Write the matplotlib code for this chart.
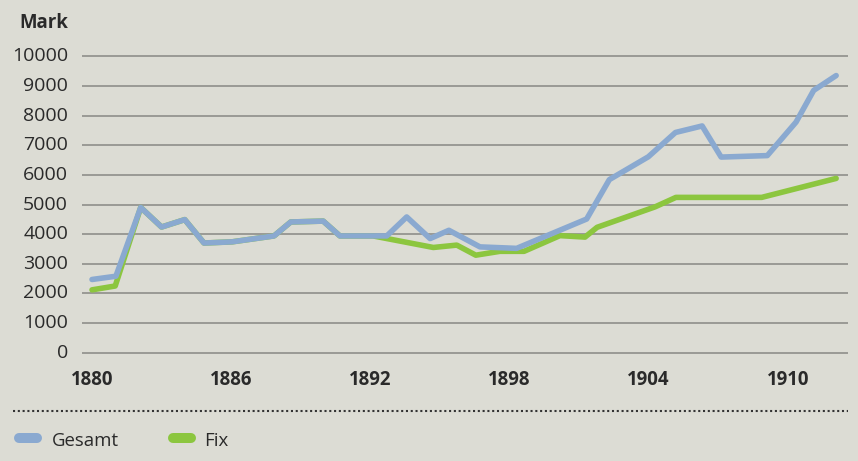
import matplotlib
matplotlib.use("Agg")
import matplotlib.pyplot as plt
from matplotlib.lines import Line2D
from matplotlib.transforms import ScaledTranslation

# ---------------- data ----------------
gesamt_years = [1880.0, 1881.03, 1882.1, 1883.0, 1884.0, 1884.83, 1886.04, 1887.85,
                1888.57, 1889.97, 1890.69, 1892.71, 1893.57, 1894.58, 1895.39, 1896.73,
                1898.31, 1901.33, 1902.31, 1903.99, 1905.16, 1906.31, 1907.13, 1909.12,
                1910.36, 1911.12, 1912.09]
gesamt_values = [2470, 2580, 4900, 4240, 4490, 3700, 3740, 3940,
                 4410, 4440, 3940, 3940, 4580, 3850, 4130, 3570,
                 3520, 4510, 5840, 6610, 7430, 7650, 6600, 6650,
                 7780, 8850, 9350]

fix_years = [1880.0, 1881.0, 1882.1, 1883.0, 1884.0, 1884.83, 1886.04, 1887.85,
             1888.57, 1889.97, 1890.69, 1892.12, 1894.72, 1895.73, 1896.55, 1897.59,
             1898.63, 1900.18, 1901.26, 1901.78, 1904.28, 1905.18, 1908.88, 1912.09]
fix_values = [2120, 2250, 4900, 4240, 4490, 3700, 3740, 3940,
              4410, 4440, 3940, 3940, 3550, 3630, 3290, 3420,
              3420, 3950, 3900, 4230, 4920, 5240, 5240, 5880]

x_ticks = [1880, 1886, 1892, 1898, 1904, 1910]
y_ticks = [0, 1000, 2000, 3000, 4000, 5000, 6000, 7000, 8000, 9000, 10000]
y_labels = ["0", "1000", "2000", "3000", "4000", "5000", "6000", "7000", "8000", "9000", "10000"]
series_names = ["Gesamt", "Fix"]
y_title = "Mark"

# ---------------- style ----------------
BG = "#dcdcd4"
BLUE = "#8aa9d0"
GREEN = "#8cc63f"
GRID = "#8e8e8a"
TXT = "#2a2a2a"
plt.rcParams["font.family"] = ["Open Sans", "DejaVu Sans"]

W, H = 858, 461
fig = plt.figure(figsize=(W / 100, H / 100), dpi=100)
fig.patch.set_facecolor(BG)

def fy(py):
    return 1 - py / H

# axes geometry (pixels)
left_px, right_px = 82, 848
px_per_year = 23.19
x_first_px = 92
x0 = 1880 - (x_first_px - left_px) / px_per_year
x1 = 1880 + (right_px - x_first_px) / px_per_year
ylo, yhi = -250, 10250
px_per_unit = 0.02964
zero_px = 352.7
bottom_px = zero_px - ylo * px_per_unit
height_px = (yhi - ylo) * px_per_unit

ax = fig.add_axes([left_px / W, fy(bottom_px), (right_px - left_px) / W, height_px / H])
ax.set_facecolor(BG)
ax.set_xlim(x0, x1)
ax.set_ylim(ylo, yhi)
for s in ax.spines.values():
    s.set_visible(False)

ax.set_yticks(y_ticks)
ax.set_yticklabels(y_labels)
ax.yaxis.grid(True, color=GRID, linewidth=1.2)
ax.set_axisbelow(True)
ax.tick_params(axis="y", length=0, pad=10, labelsize=14, labelcolor=TXT)
ax.set_xticks(x_ticks)
ax.set_xticklabels([str(t) for t in x_ticks], fontweight="bold")
ax.tick_params(axis="x", length=0, pad=7, labelsize=13.4, labelcolor=TXT)

shift = ScaledTranslation(0, 0.02, fig.dpi_scale_trans)
for lab in ax.get_yticklabels():
    lab.set_transform(lab.get_transform() + shift)

ax.plot(fix_years, fix_values, color=GREEN, lw=4.0, solid_capstyle="round",
        solid_joinstyle="round", zorder=3)
ax.plot(gesamt_years, gesamt_values, color=BLUE, lw=4.0, solid_capstyle="round",
        solid_joinstyle="round", zorder=4)

# y title
fig.text(68.3 / W, fy(28.3), y_title, ha="right", va="baseline",
         fontsize=13.4, fontweight="bold", color=TXT)

# dotted separator
fig.add_artist(Line2D([13 / W, 848 / W], [fy(411), fy(411)], color="#333333",
                      lw=1.5, linestyle=(0, (1, 1.3)), dash_capstyle="butt"))

# legend
leg_items = [(series_names[0], BLUE, 19.3, 36.7, 51.7),
             (series_names[1], GREEN, 172.7, 190.7, 204)]
for name, col, xa, xb, xt in leg_items:
    fig.add_artist(Line2D([xa / W, xb / W], [fy(438.3), fy(438.3)], color=col,
                          lw=7.2, solid_capstyle="round"))
    fig.text(xt / W, fy(445.5), name, ha="left", va="baseline",
             fontsize=13.4, color=TXT)

fig.savefig("out.png", dpi=100, facecolor=BG)
